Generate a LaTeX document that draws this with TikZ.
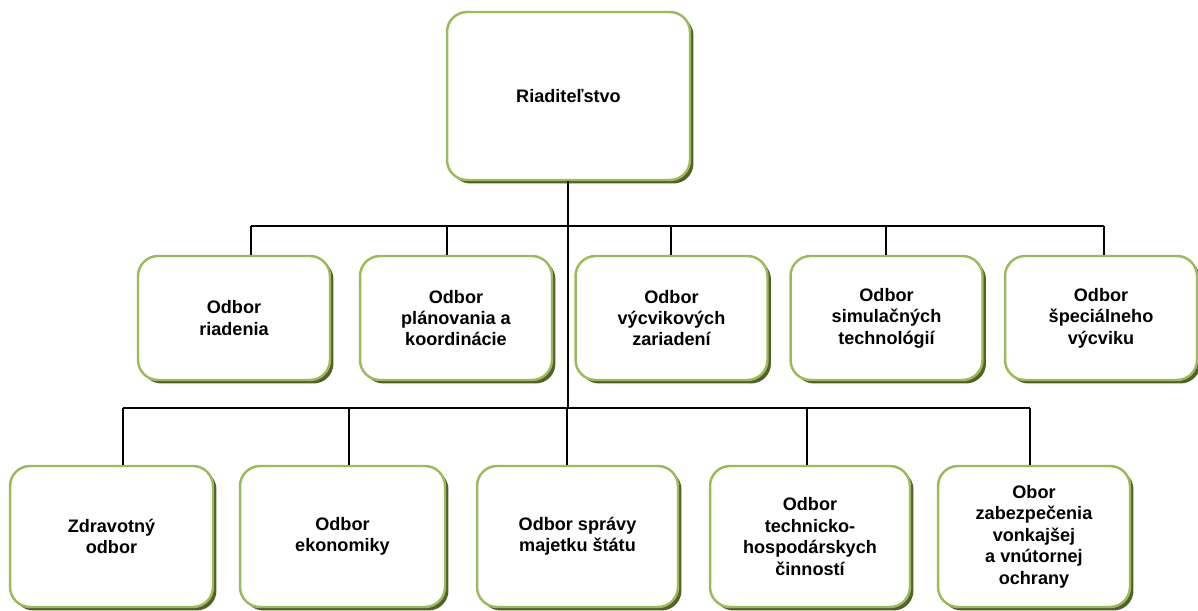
\documentclass[tikz,border=0pt]{standalone}
\usepackage{fontspec}
\setmainfont{Liberation Sans}
\usepackage{tikz}
\usetikzlibrary{shadows}

\definecolor{boxgreen}{HTML}{9BBB59}
\definecolor{boxshadow}{HTML}{4F6228}

\tikzset{
  orgbox/.style={draw=boxgreen, line width=1.4pt, fill=white, rounded corners=0.4cm,
    align=center, font=\fontsize{10.3}{12.2}\selectfont\bfseries,
    drop shadow={shadow xshift=0.07cm, shadow yshift=-0.07cm, fill=boxshadow, opacity=1},
    inner sep=2pt},
  toprow/.style={orgbox, minimum width=3.84cm, minimum height=2.48cm},
  lowrow/.style={orgbox, minimum height=2.82cm},
  link/.style={thick, black}
}

\begin{document}
\begin{tikzpicture}[x=0.02cm, y=-0.02cm]
    \useasboundingbox (0,0) rectangle (1198,611);

    % Director
    \node[orgbox, minimum width=4.86cm, minimum height=3.36cm] (dir) at (568.5,96) {\raisebox{-0.2cm}{Riaditeľstvo}};

    % First row of departments
    \node[toprow] (a1) at (234,318) {Odbor\\riadenia};
    \node[toprow] (a2) at (456,318) {Odbor\\plánovania a\\koordinácie};
    \node[toprow] (a3) at (671.5,318) {Odbor\\výcvikových\\zariadení};
    \node[toprow] (a4) at (886.5,318) {Odbor\\simulačných\\technológií};
    \node[toprow] (a5) at (1101,318) {Odbor\\špeciálneho\\výcviku};

    % Second row of departments
    \node[lowrow, minimum width=4.06cm] (b1) at (111.5,536.5) {Zdravotný\\odbor};
    \node[lowrow, minimum width=4.1cm] (b2) at (342.5,536.5) {Odbor\\ekonomiky};
    \node[lowrow, minimum width=4.02cm] (b3) at (577.5,536.5) {Odbor správy\\majetku štátu};
    \node[lowrow, minimum width=4.0cm] (b4) at (810,536.5) {Odbor\\technicko-\\hospodárskych\\činností};
    \node[lowrow, minimum width=3.84cm] (b5) at (1034,536.5) {Obor\\zabezpečenia\\vonkajšej\\a vnútornej\\ochrany};

    % Bus points
    \coordinate (j1) at (568,226);
    \coordinate (j2) at (568,408);
    \coordinate (k1) at (251,226);
    \coordinate (k2) at (447,226);
    \coordinate (k3) at (671,226);
    \coordinate (k4) at (886,226);
    \coordinate (k5) at (1104,226);
    \coordinate (m1) at (123,408);
    \coordinate (m2) at (349,408);
    \coordinate (m3) at (567,408);
    \coordinate (m4) at (807,408);
    \coordinate (m5) at (1030,408);

    % Connectors
    \draw[link] (dir.south -| j1) -- (j2);
    \draw[link] (k1) -- (k5);
    \draw[link] (m1) -- (m5);
    \foreach \i in {1,...,5} {
      \draw[link] (k\i) -- (k\i |- a\i.north);
      \draw[link] (m\i) -- (m\i |- b\i.north);
    }
\end{tikzpicture}
\end{document}
